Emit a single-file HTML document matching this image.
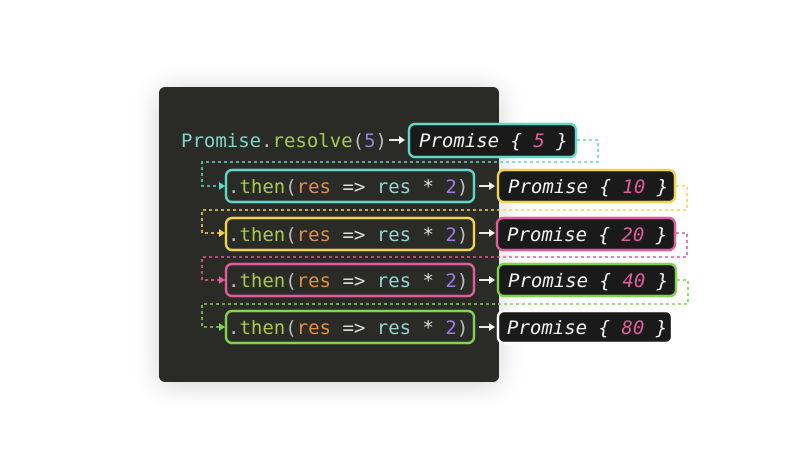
<!DOCTYPE html>
<html><head><style>
body{margin:0;background:#fff;width:800px;height:450px;overflow:hidden}
svg{display:block}
text{font-family:"DejaVu Sans Mono","Liberation Mono",monospace;font-size:19px}
</style></head><body>
<svg width="800" height="450" viewBox="0 0 800 450">
<defs>
<filter id="sh" x="-30%" y="-30%" width="160%" height="160%"><feGaussianBlur stdDeviation="14"/></filter>
</defs>
<rect x="159" y="90" width="340" height="295" rx="6" fill="#000" opacity="0.18" filter="url(#sh)"/>
<rect x="159" y="87" width="340" height="295" rx="6" fill="#2a2a27"/>

<!-- connectors -->
<g fill="none" stroke-width="1.6" stroke-dasharray="3,3">
<path d="M577 140H598V162H202V186H220" stroke="#5ed9c5"/>
<path d="M676 186H687V210H202V233H220" stroke="#f1d54a"/>
<path d="M676 233H687V257H202V280H220" stroke="#e05d9a"/>
<path d="M677 280H688V304H202V327H220" stroke="#7fd64a"/>
</g>
<g>
<path d="M219 182L225 186L219 190Z" fill="#5ed9c5"/>
<path d="M219 229L225 233L219 237Z" fill="#f1d54a"/>
<path d="M219 276L225 280L219 284Z" fill="#e05d9a"/>
<path d="M219 323L225 327L219 331Z" fill="#7fd64a"/>
</g>
<!-- white arrows -->
<g stroke="#fff" stroke-width="1.8" fill="#fff">
<path d="M389 140H400"/><path d="M399 136L405 140L399 144Z" stroke="none"/>
<path d="M479 186H490"/><path d="M489 182L495 186L489 190Z" stroke="none"/>
<path d="M479 233H490"/><path d="M489 229L495 233L489 237Z" stroke="none"/>
<path d="M479 280H490"/><path d="M489 276L495 280L489 284Z" stroke="none"/>
<path d="M479 327H490"/><path d="M489 323L495 327L489 331Z" stroke="none"/>
</g>

<text x="181" y="147"><tspan fill="#7fd6c8">Promise</tspan><tspan fill="#bbb">.</tspan><tspan fill="#a7c94a">resolve</tspan><tspan fill="#bbb">(</tspan><tspan fill="#9b7fe0">5</tspan><tspan fill="#bbb">)</tspan></text>

<g stroke-width="2.4" fill="#1a1a1a">
<rect x="409" y="124" width="167" height="33" rx="6" stroke="#5ed9c5"/>
<rect x="498" y="170" width="177" height="32" rx="6" stroke="#f1d54a"/>
<rect x="497" y="218" width="178" height="32" rx="6" stroke="#e05d9a"/>
<rect x="498" y="264" width="178" height="32" rx="6" stroke="#7fd64a"/>
<rect x="498" y="311" width="174" height="32" rx="6" stroke="#fff"/>
</g>
<g fill="none" stroke-width="2.4">
<rect x="226" y="170" width="248" height="32" rx="6" stroke="#5ed9c5"/>
<rect x="226" y="218" width="248" height="32" rx="6" stroke="#f1d54a"/>
<rect x="226" y="264" width="248" height="32" rx="6" stroke="#e05d9a"/>
<rect x="226" y="311" width="248" height="32" rx="6" stroke="#7fd64a"/>
</g>

<g font-style="italic" fill="#f2f2f2">
<text x="419" y="147" font-style="italic">Promise { <tspan fill="#e05d9a">5</tspan> }</text>
<text x="508" y="193" font-style="italic">Promise { <tspan fill="#e05d9a">10</tspan> }</text>
<text x="507" y="241" font-style="italic">Promise { <tspan fill="#e05d9a">20</tspan> }</text>
<text x="508" y="287" font-style="italic">Promise { <tspan fill="#e05d9a">40</tspan> }</text>
<text x="507" y="334" font-style="italic">Promise { <tspan fill="#e05d9a">80</tspan> }</text>
</g>

<g>
<text x="228" y="193"><tspan fill="#bbb">.</tspan><tspan fill="#a7c94a">then</tspan><tspan fill="#bbb">(</tspan><tspan fill="#e0913a">res</tspan><tspan fill="#ddd"> =&gt; </tspan><tspan fill="#8fd8d0">res</tspan><tspan fill="#ddd"> * </tspan><tspan fill="#9b7fe0">2</tspan><tspan fill="#bbb">)</tspan></text>
<text x="228" y="241"><tspan fill="#bbb">.</tspan><tspan fill="#a7c94a">then</tspan><tspan fill="#bbb">(</tspan><tspan fill="#e0913a">res</tspan><tspan fill="#ddd"> =&gt; </tspan><tspan fill="#8fd8d0">res</tspan><tspan fill="#ddd"> * </tspan><tspan fill="#9b7fe0">2</tspan><tspan fill="#bbb">)</tspan></text>
<text x="228" y="287"><tspan fill="#bbb">.</tspan><tspan fill="#a7c94a">then</tspan><tspan fill="#bbb">(</tspan><tspan fill="#e0913a">res</tspan><tspan fill="#ddd"> =&gt; </tspan><tspan fill="#8fd8d0">res</tspan><tspan fill="#ddd"> * </tspan><tspan fill="#9b7fe0">2</tspan><tspan fill="#bbb">)</tspan></text>
<text x="228" y="334"><tspan fill="#bbb">.</tspan><tspan fill="#a7c94a">then</tspan><tspan fill="#bbb">(</tspan><tspan fill="#e0913a">res</tspan><tspan fill="#ddd"> =&gt; </tspan><tspan fill="#8fd8d0">res</tspan><tspan fill="#ddd"> * </tspan><tspan fill="#9b7fe0">2</tspan><tspan fill="#bbb">)</tspan></text>
</g>
</svg>
</body></html>
